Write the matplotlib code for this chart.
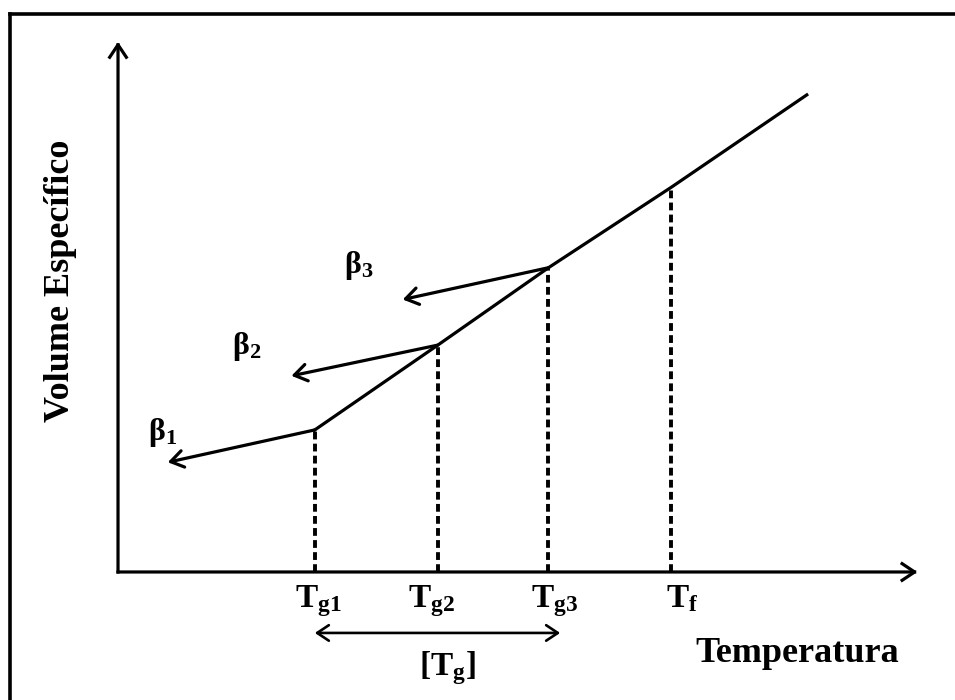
import matplotlib.pyplot as plt
from matplotlib.lines import Line2D

plt.rcParams['font.family'] = ['Liberation Serif', 'DejaVu Serif']
plt.rcParams['font.weight'] = 'bold'
plt.rcParams['mathtext.fontset'] = 'custom'
plt.rcParams['mathtext.bf'] = 'Liberation Serif:bold'
plt.rcParams['mathtext.rm'] = 'Liberation Serif:bold'
plt.rcParams['mathtext.it'] = 'Liberation Serif:bold'
plt.rcParams['mathtext.default'] = 'bf'

# Liquid (equilibrium) line: temperature vs specific volume
liquid_T = [3.2, 5.2, 7.0, 9.0, 11.2]
liquid_V = [2.68, 4.28, 5.74, 7.26, 9.0]

# Glass transition temperatures for three cooling rates, and melting point
tg_vals = [3.2, 5.2, 7.0]
tg_vol = [2.68, 4.28, 5.74]
tf_val = 9.0
tf_vol = 7.26

# Glassy branches: end points of the arrows
glass_T_end = [0.81, 2.82, 4.63]
glass_V_end = [2.07, 3.70, 5.14]
beta_labels = [r'$\beta_1$', r'$\beta_2$', r'$\beta_3$']
beta_pos = [(0.72, 2.64), (2.10, 4.26), (3.92, 5.79)]

tick_labels = [r'$T_{g1}$', r'$T_{g2}$', r'$T_{g3}$', r'$T_f$']

fig = plt.figure(figsize=(9.55, 7), dpi=100)
ax = fig.add_axes([0, 0, 1, 1])
ax.set_xlim(-1.919, 13.61)
ax.set_ylim(-2.415, 10.79)
ax.axis('off')

# frame (only left and top edges visible)
fig.add_artist(Line2D([9.5 / 955, 9.5 / 955], [0, 1 - 13.5 / 700],
                      transform=fig.transFigure, color='black', lw=2.6))
fig.add_artist(Line2D([9.5 / 955, 1], [1 - 13.5 / 700, 1 - 13.5 / 700],
                      transform=fig.transFigure, color='black', lw=2.6,
                      solid_capstyle='projecting'))

arr = dict(arrowstyle='->,head_length=0.6,head_width=0.4', lw=2.3,
           color='black', shrinkA=0, shrinkB=0, mutation_scale=15)

# axes
axis_arr = dict(arr, capstyle='projecting')
ax.annotate('', xy=(0, 10.0), xytext=(0, 0), arrowprops=axis_arr)
ax.annotate('', xy=(13.0, 0), xytext=(0, 0), arrowprops=axis_arr)

# liquid line
ax.plot(liquid_T, liquid_V, color='black', lw=2.3)

# glass lines
for t0, v0, t1, v1, lab, pos in zip(tg_vals, tg_vol, glass_T_end, glass_V_end,
                                     beta_labels, beta_pos):
    ax.annotate('', xy=(t1, v1), xytext=(t0, v0), arrowprops=arr)
    ax.text(pos[0], pos[1], lab, fontsize=23, ha='center', va='center')

# dashed drops
for t, v in zip(tg_vals + [tf_val], tg_vol + [tf_vol]):
    ax.plot([t, t], [0, v], color='black', lw=2.8, linestyle=(0, (2.0, 1.1)))

# tick labels
offsets = [0.05, -0.1, 0.1, 0.18]
for t, lab, off in zip(tg_vals + [tf_val], tick_labels, offsets):
    ax.text(t + off, -0.66, lab, fontsize=24, ha='center', va='baseline')

# Tg range
ax.annotate('', xy=(3.2, -1.15), xytext=(7.19, -1.15),
            arrowprops=dict(arrowstyle='<->,head_length=0.6,head_width=0.4',
                            lw=1.9, color='black', shrinkA=0, shrinkB=0,
                            mutation_scale=14))
ax.text(5.35, -1.94, r'$[T_g]$', fontsize=24, ha='center', va='baseline')

ax.text(11.05, -1.70, 'Temperatura', fontsize=26, fontweight='bold',
        ha='center', va='baseline')
ax.text(-0.943, 5.49, 'Volume Específico', fontsize=26, fontweight='bold',
        rotation=90, ha='center', va='center')

fig.savefig('out.png', dpi=100)
